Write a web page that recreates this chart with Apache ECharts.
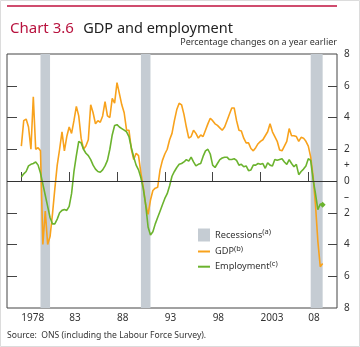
<!DOCTYPE html>
<html><head><meta charset="utf-8">
<script src="https://cdn.jsdelivr.net/npm/echarts@6/dist/echarts.min.js"></script>
<style>html,body{margin:0;padding:0;background:#fff}#c{width:360px;height:347px}</style>
</head><body><div id="c"></div>
<script>
// Quarterly data, first point 1978 Q1
const startYear = 1978;
const gdp = [
  2.2, 3.8, 3.9, 3.4, 2.0, 5.3, 2.0, 2.1, 1.9, -4.0,
  -1.9, -4.0, -3.5, -2.1, -0.5, 1.0, 2.0, 3.1, 1.9, 2.8,
  3.4, 3.0, 3.8, 4.7, 4.1, 2.7, 2.0, 2.2, 2.6, 4.8,
  4.3, 3.6, 3.8, 3.7, 4.1, 5.0, 4.1, 4.0, 5.2, 4.9,
  6.2, 5.5, 4.8, 4.3, 3.2, 3.2, 2.0, 1.35, 1.75, 1.6,
  0.5, -0.4, -1.5, -2.1, -1.2, -0.6, -0.45, -0.4, 0.7, 1.3,
  1.7, 2.0, 2.6, 3.0, 3.8, 4.5, 4.9,
  4.8, 4.2, 3.4, 2.7, 2.8, 3.2, 3.0, 2.7, 2.9, 2.8,
  3.2, 3.6, 3.95, 3.8, 3.6, 3.5, 3.35, 3.2, 3.4, 3.8,
  4.2, 4.6, 4.6, 3.8, 3.2, 3.15, 2.7, 2.4, 2.4, 2.05,
  1.9, 2.1, 2.35, 2.5, 2.6, 2.85, 3.1, 3.6, 3.1, 2.8,
  2.5, 1.95, 1.9, 2.2, 2.5, 3.3, 2.85, 2.85, 2.8, 2.5,
  2.75, 2.7, 2.5, 2.2, 1.5, 0.3, -1.5, -3.8, -5.4, -5.2
];
const employment = [
  0.25, 0.45, 0.6, 0.95, 1.05, 1.1, 1.2, 1.0, 0.5, -0.2,
  -0.9, -1.6, -2.3, -2.7, -2.7, -2.4, -2.0, -1.85, -1.8, -1.85,
  -1.6, -0.8, 0.6, 1.6, 2.5, 2.4, 2.0, 1.75, 1.6, 1.35,
  1.0, 0.75, 0.6, 0.55, 0.7, 0.95, 1.3, 2.0, 2.9, 3.5,
  3.55, 3.4, 3.3, 3.2, 3.1, 2.8, 2.1, 1.5, 1.0, 0.7,
  0.2, -0.5, -1.5, -2.9, -3.4, -3.2, -2.7, -2.3, -1.9, -1.5,
  -1.1, -0.8, -0.3, 0.3, 0.6, 0.85, 1.05,
  1.1, 1.2, 1.35, 1.25, 1.5, 1.2, 0.95, 1.05, 1.1, 1.55,
  1.9, 2.0, 1.7, 1.0, 0.85, 1.1, 1.35, 1.45, 1.5, 1.5,
  1.35, 1.35, 1.4, 1.3, 1.0, 1.05, 0.9, 0.95, 0.65, 0.7,
  1.0, 1.0, 1.1, 1.05, 1.1, 0.8, 1.15, 1.0, 0.95, 1.35,
  1.3, 1.35, 1.4, 1.2, 1.05, 1.35, 1.1, 0.9, 1.05, 0.4,
  0.6, 0.75, 0.95, 1.4, 1.3, 0.1, -0.8, -1.8, -1.45, -1.5
];
const recessions = [[1980.0, 1981.0], [1990.5, 1991.5], [2008.25, 2009.5]];
const xTickYears = [1978, 1983, 1988, 1993, 1998, 2003, 2008];
const xTickLabels = ['1978', '83', '88', '93', '98', '2003', '08'];
const yTickValues = [-6, -4, -2, 2, 4, 6];
const yLabelValues = [-8, -6, -4, -2, -1, 0, 1, 2, 4, 6, 8];
const yLabelText = ['8', '6', '4', '2', '\u2013', '0', '+', '2', '4', '6', '8'];
const legendSup = { 'Recessions': '(a)', 'GDP': '(b)', 'Employment': '(c)' };

const FONT = '"Noto Sans", "Open Sans", sans-serif';
const toPts = arr => arr.map((v, i) => [startYear + i / 4, v]);
const empPts = toPts(employment);
empPts[empPts.length - 1] = { value: empPts[empPts.length - 1], symbol: 'diamond', symbolSize: 6 };

const chart = echarts.init(document.getElementById('c'), null, { renderer: 'canvas' });
const axisCol = '#444';
const hiddenMarker = { color: 'rgba(0,0,0,0)', opacity: 0, borderWidth: 0 };
chart.setOption({
  animation: false,
  backgroundColor: '#fff',
  textStyle: { fontFamily: FONT },
  title: {
    text: '{a|Chart 3.6}  {b|GDP and employment}',
    left: 5, top: 15,
    textStyle: { fontWeight: 'normal', rich: {
      a: { fontSize: 15, color: '#b8123e', fontFamily: FONT, fontWeight: 'normal' },
      b: { fontSize: 14.5, color: '#222', fontFamily: FONT, fontWeight: 'normal' }
    } }
  },
  graphic: [
    { type: 'rect', shape: { x: 0.5, y: 0.5, width: 359, height: 346 }, style: { fill: 'none', stroke: '#dcdcdc', lineWidth: 1 }, silent: true },
    { type: 'line', shape: { x1: 7, y1: 6, x2: 337, y2: 6 }, style: { stroke: '#c0103e', lineWidth: 1.5 }, silent: true },
    { type: 'text', right: 23, top: 38, style: { text: 'Percentage changes on a year earlier', font: '9px ' + FONT, fill: '#333' } },
    { type: 'text', left: 7, top: 331, style: { text: 'Source:  ONS (including the Labour Force Survey).', font: '8.6px ' + FONT, fill: '#333' } }
  ],
  grid: { left: 7, right: 23, top: 54, bottom: 39, show: true, borderColor: axisCol, borderWidth: 1, backgroundColor: 'transparent' },
  xAxis: {
    type: 'value', min: 1976.5, max: 2011,
    axisLine: { show: false }, splitLine: { show: false },
    axisTick: { inside: true, length: 9, customValues: xTickYears, lineStyle: { color: axisCol } },
    axisLabel: {
      customValues: xTickYears,
      formatter: v => xTickLabels[xTickYears.indexOf(Math.round(v))],
      align: 'left', margin: 5, fontSize: 10, color: '#333', fontFamily: FONT
    }
  },
  yAxis: [
    {
      type: 'value', min: -8, max: 8, position: 'left',
      axisLine: { show: false }, splitLine: { show: false },
      axisTick: { inside: true, length: 10, customValues: yTickValues, lineStyle: { color: axisCol } },
      axisLabel: { show: false }
    },
    {
      type: 'value', min: -8, max: 8, position: 'right',
      axisLine: { show: false }, splitLine: { show: false },
      axisTick: { inside: true, length: 9, customValues: yTickValues, lineStyle: { color: axisCol } },
      axisLabel: {
        customValues: yLabelValues,
        formatter: v => yLabelText[yLabelValues.indexOf(Math.round(v))],
        margin: 7, fontSize: 10, color: '#333', fontFamily: FONT
      }
    }
  ],
  legend: {
    orient: 'vertical', left: 192, top: 223,
    itemWidth: 12, itemHeight: 13, itemGap: 3,
    data: [
      { name: 'Recessions', icon: 'rect' },
      { name: 'GDP', itemStyle: hiddenMarker },
      { name: 'Employment', itemStyle: hiddenMarker }
    ],
    formatter: name => name + '{s|' + legendSup[name] + '}',
    textStyle: {
      fontSize: 9.2, color: '#333', fontFamily: FONT,
      rich: { s: { fontSize: 7.5, color: '#333', fontFamily: FONT, verticalAlign: 'bottom', padding: [0, 0, 6, 0] } }
    }
  },
  series: [
    {
      name: 'Recessions', type: 'line', data: [], symbol: 'none',
      itemStyle: { color: '#c5ccd3' }, lineStyle: { color: '#c5ccd3' },
      markArea: {
        silent: true, itemStyle: { color: '#c5ccd3' },
        data: recessions.map(r => [{ xAxis: r[0] }, { xAxis: r[1] }])
      },
      markLine: {
        silent: true, symbol: 'none', label: { show: false },
        lineStyle: { color: '#333', width: 1, type: 'solid' },
        data: [{ yAxis: 0 }]
      }
    },
    {
      name: 'GDP', type: 'line', data: toPts(gdp), symbol: 'none',
      itemStyle: { color: '#f8a21c' }, lineStyle: { color: '#f8a21c', width: 1.6 }
    },
    {
      name: 'Employment', type: 'line', data: empPts, symbol: 'none',
      itemStyle: { color: '#6bb32e' }, lineStyle: { color: '#6bb32e', width: 1.6 }
    }
  ]
});
</script>
</body></html>
